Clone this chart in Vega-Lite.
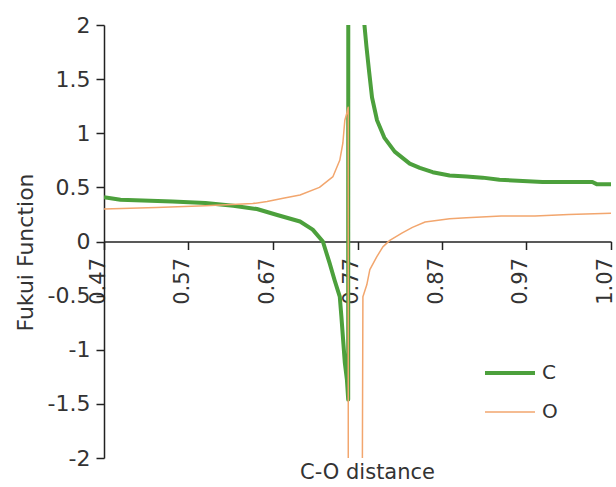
{
  "$schema": "https://vega.github.io/schema/vega-lite/v6.json",
  "width": 507,
  "height": 433,
  "autosize": {"type": "none"},
  "padding": {"left": 104, "top": 25, "right": 5, "bottom": 29},
  "background": "white",
  "config": {
    "view": {"stroke": null},
    "font": "DejaVu Sans"
  },
  "data": {
    "values": [
      {"series": "C", "x": 0.47, "y": 0.41},
      {"series": "C", "x": 0.4895, "y": 0.385},
      {"series": "C", "x": 0.551, "y": 0.37},
      {"series": "C", "x": 0.59, "y": 0.355},
      {"series": "C", "x": 0.623, "y": 0.33},
      {"series": "C", "x": 0.651, "y": 0.30},
      {"series": "C", "x": 0.675, "y": 0.245},
      {"series": "C", "x": 0.702, "y": 0.185},
      {"series": "C", "x": 0.717, "y": 0.11},
      {"series": "C", "x": 0.729, "y": 0.0},
      {"series": "C", "x": 0.737, "y": -0.2},
      {"series": "C", "x": 0.743, "y": -0.36},
      {"series": "C", "x": 0.749, "y": -0.51},
      {"series": "C", "x": 0.751, "y": -0.70},
      {"series": "C", "x": 0.7527, "y": -0.88},
      {"series": "C", "x": 0.755, "y": -1.12},
      {"series": "C", "x": 0.7575, "y": -1.28},
      {"series": "C", "x": 0.759, "y": -1.46},
      {"series": "C", "x": 0.760, "y": 40},
      {"series": "C", "x": 0.7776, "y": 2.05},
      {"series": "C", "x": 0.7806, "y": 1.8},
      {"series": "C", "x": 0.7836, "y": 1.58},
      {"series": "C", "x": 0.7872, "y": 1.33},
      {"series": "C", "x": 0.7931, "y": 1.12},
      {"series": "C", "x": 0.8017, "y": 0.96},
      {"series": "C", "x": 0.814, "y": 0.83},
      {"series": "C", "x": 0.8318, "y": 0.72},
      {"series": "C", "x": 0.8437, "y": 0.68},
      {"series": "C", "x": 0.859, "y": 0.64},
      {"series": "C", "x": 0.879, "y": 0.61},
      {"series": "C", "x": 0.899, "y": 0.60},
      {"series": "C", "x": 0.918, "y": 0.59},
      {"series": "C", "x": 0.938, "y": 0.57},
      {"series": "C", "x": 0.989, "y": 0.55},
      {"series": "C", "x": 1.048, "y": 0.55},
      {"series": "C", "x": 1.053, "y": 0.53},
      {"series": "C", "x": 1.07, "y": 0.53},
      {"series": "O", "x": 0.47, "y": 0.30},
      {"series": "O", "x": 0.532, "y": 0.315},
      {"series": "O", "x": 0.59, "y": 0.33},
      {"series": "O", "x": 0.646, "y": 0.35},
      {"series": "O", "x": 0.663, "y": 0.37},
      {"series": "O", "x": 0.682, "y": 0.40},
      {"series": "O", "x": 0.702, "y": 0.43},
      {"series": "O", "x": 0.725, "y": 0.50},
      {"series": "O", "x": 0.741, "y": 0.60},
      {"series": "O", "x": 0.749, "y": 0.75},
      {"series": "O", "x": 0.7527, "y": 0.91},
      {"series": "O", "x": 0.755, "y": 1.12},
      {"series": "O", "x": 0.7575, "y": 1.19},
      {"series": "O", "x": 0.759, "y": 1.24},
      {"series": "O", "x": 0.760, "y": -40},
      {"series": "O", "x": 0.7764, "y": -0.51},
      {"series": "O", "x": 0.781, "y": -0.40},
      {"series": "O", "x": 0.7846, "y": -0.26},
      {"series": "O", "x": 0.7929, "y": -0.14},
      {"series": "O", "x": 0.80, "y": -0.05},
      {"series": "O", "x": 0.8082, "y": 0.01},
      {"series": "O", "x": 0.823, "y": 0.08},
      {"series": "O", "x": 0.835, "y": 0.13},
      {"series": "O", "x": 0.85, "y": 0.18},
      {"series": "O", "x": 0.879, "y": 0.21},
      {"series": "O", "x": 0.899, "y": 0.22},
      {"series": "O", "x": 0.94, "y": 0.235},
      {"series": "O", "x": 0.98, "y": 0.235},
      {"series": "O", "x": 1.02, "y": 0.25},
      {"series": "O", "x": 1.07, "y": 0.26}
    ]
  },
  "mark": {"type": "line", "clip": true, "strokeJoin": "round"},
  "encoding": {
    "x": {
      "field": "x",
      "type": "quantitative",
      "scale": {"domain": [0.47, 1.07], "nice": false, "zero": false},
      "axis": {
        "values": [0.47, 0.57, 0.67, 0.77, 0.87, 0.97, 1.07],
        "labelExpr": "format(datum.value, '.2f')",
        "offset": -216.5,
        "labelAngle": 270,
        "labelAlign": "right",
        "labelBaseline": "alphabetic",
        "labelFontSize": 21,
        "labelColor": "#333333",
        "labelPadding": 8,
        "tickSize": 8,
        "tickColor": "#222222",
        "domainColor": "#222222",
        "domainWidth": 1.5,
        "tickWidth": 1.5,
        "grid": false,
        "title": "C-O distance",
        "titleFontSize": 21,
        "titleFontWeight": "normal",
        "titleColor": "#333333",
        "titleX": 263,
        "titleY": 231,
        "titleAlign": "center",
        "titleBaseline": "middle",
        "labelFlush": false,
        "labelOverlap": false
      }
    },
    "y": {
      "field": "y",
      "type": "quantitative",
      "scale": {"domain": [-2, 2], "nice": false, "zero": false},
      "axis": {
        "values": [-2, -1.5, -1, -0.5, 0, 0.5, 1, 1.5, 2],
        "labelExpr": "'' + datum.value",
        "labelFontSize": 22,
        "labelColor": "#333333",
        "labelPadding": 6,
        "tickSize": 8,
        "tickColor": "#222222",
        "domainColor": "#222222",
        "domainWidth": 1.5,
        "tickWidth": 1.5,
        "grid": false,
        "title": "Fukui Function",
        "titleFontSize": 22,
        "titleFontWeight": "normal",
        "titleColor": "#333333",
        "titleAngle": 270,
        "titleX": -79,
        "titleY": 227,
        "titleAlign": "center",
        "titleBaseline": "middle",
        "labelFlush": false,
        "labelOverlap": false
      }
    },
    "color": {
      "field": "series",
      "type": "nominal",
      "scale": {"domain": ["C", "O"], "range": ["#4ca03c", "#f2a66e"]},
      "legend": {
        "orient": "none",
        "legendX": 379,
        "legendY": 321,
        "title": null,
        "symbolType": "stroke",
        "symbolSize": 2500,
        "labelFontSize": 20,
        "labelColor": "#333333",
        "labelOffset": 5,
        "rowPadding": 3,
        "padding": 0
      }
    },
    "strokeWidth": {
      "field": "series",
      "type": "nominal",
      "scale": {"domain": ["C", "O"], "range": [4, 1.5]},
      "legend": {
        "orient": "none",
        "legendX": 379,
        "legendY": 321,
        "title": null,
        "symbolType": "stroke",
        "symbolSize": 2500,
        "labelFontSize": 20,
        "labelColor": "#333333",
        "labelOffset": 5,
        "rowPadding": 3,
        "padding": 0
      }
    }
  }
}
